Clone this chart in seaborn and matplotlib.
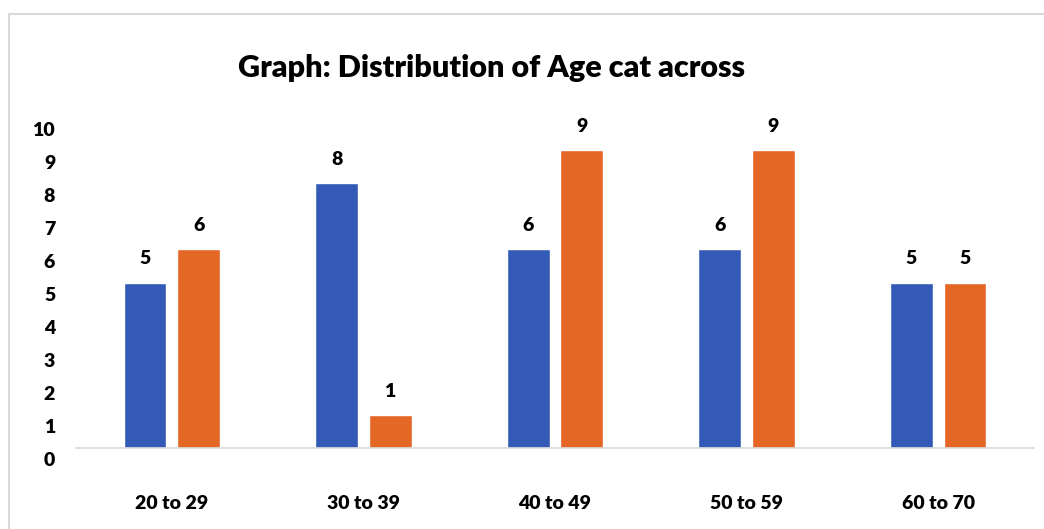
import matplotlib
matplotlib.use("Agg")
import matplotlib.pyplot as plt
import matplotlib.transforms as mtransforms
from matplotlib.patches import Rectangle
import seaborn as sns
import pandas as pd

# Age bands and counts per group
age_bands = ["20 to 29", "30 to 39", "40 to 49", "50 to 59", "60 to 70"]
series_names = ["Series 1", "Series 2"]
series1_counts = [5, 8, 6, 6, 5]
series2_counts = [6, 1, 9, 9, 5]
y_ticks = list(range(0, 11))
title_text = "Graph: Distribution of Age cat across"

blue = "#335AB6"
orange = "#E46726"
text_color = "#000000"
line_gray = "#D9D9D9"
weight = "heavy"

df = pd.DataFrame({
    "age": age_bands * 2,
    "group": [series_names[0]] * len(age_bands) + [series_names[1]] * len(age_bands),
    "count": series1_counts + series2_counts,
})

sns.set_theme(style="white")
plt.rcParams["font.family"] = ["Lato", "DejaVu Sans"]

W, H = 1044, 529
fig = plt.figure(figsize=(W / 100, H / 100), dpi=100)
ax = fig.add_axes([76 / W, (H - 448) / H, (1034 - 76) / W, (448 - 117) / H])

sns.barplot(
    data=df, x="age", y="count", hue="group", order=age_bands,
    hue_order=series_names, palette=[blue, orange],
    width=0.56, gap=0.2, saturation=1, legend=False, ax=ax,
)

ax.set_xlim(-0.5, len(age_bands) - 0.5)
ax.set_ylim(0, 10)
ax.set_xlabel("")
ax.set_ylabel("")

for cont in ax.containers:
    ax.bar_label(cont, fmt="%d", padding=11, fontsize=14,
                 fontweight=weight, color=text_color)

for side in ["top", "right", "left"]:
    ax.spines[side].set_visible(False)
ax.spines["bottom"].set_color(line_gray)
ax.spines["bottom"].set_linewidth(1.2)

ax.set_yticks(y_ticks)
ax.set_yticklabels([str(v) for v in y_ticks])
ax.tick_params(axis="y", length=0, pad=15, labelsize=14, labelcolor=text_color)
ax.tick_params(axis="x", length=0, pad=34, labelsize=14, labelcolor=text_color)
for lab in ax.get_yticklabels() + ax.get_xticklabels():
    lab.set_fontweight(weight)

# value labels on the y axis sit a little below their gridline positions
shift = mtransforms.ScaledTranslation(0, -11.5 / 100, fig.dpi_scale_trans)
for lab in ax.get_yticklabels():
    lab.set_transform(lab.get_transform() + shift)

fig.text(491 / W, (H - 68) / H, title_text, ha="center", va="center",
         fontsize=22, fontweight=weight, color=text_color)

# chart area frame
fig.patches.append(Rectangle((9 / W, -0.2), 1.2, (H - 14) / H + 0.2,
                             transform=fig.transFigure, fill=False,
                             edgecolor=line_gray, linewidth=1.5))

fig.savefig("out.png", dpi=100, facecolor="white")
